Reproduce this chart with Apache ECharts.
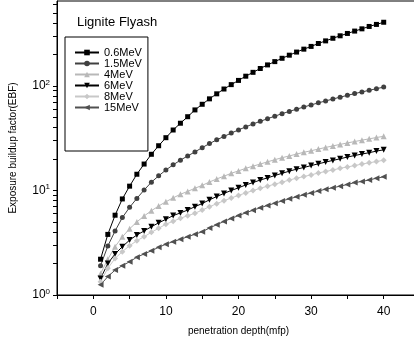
<!DOCTYPE html>
<html>
<head>
<meta charset="utf-8">
<script src="https://cdn.jsdelivr.net/npm/echarts@6/dist/echarts.min.js"></script>
<style>
  html, body { margin: 0; padding: 0; background: #fff; }
  #chart { width: 414px; height: 339px; }
</style>
</head>
<body>
<div id="chart"></div>
<script>
// penetration depth (mfp)
var depth = [1, 2, 3, 4, 5, 6, 7, 8, 9, 10, 11, 12, 13, 14, 15, 16, 17, 18, 19, 20,
             21, 22, 23, 24, 25, 26, 27, 28, 29, 30, 31, 32, 33, 34, 35, 36, 37, 38, 39, 40];

// EBF, one list per energy
var ebf06 = [2.2, 3.8, 5.8, 8.3, 11.0, 14.3, 17.9, 22.2, 26.8, 32, 37.9, 44, 50.8, 59, 66.8,
             75.3, 84.1, 93.5, 103, 113, 124, 135, 147, 159, 171, 184, 197, 211, 225, 239,
             255, 270, 286, 302, 318, 335, 352, 371, 388, 407];
var ebf15 = [1.91, 2.94, 4.1, 5.5, 6.9, 8.4, 10.1, 12.0, 13.8, 15.7, 17.6, 19.5, 21.4, 23.4, 25.7,
             28.1, 30.5, 32.9, 35.4, 38.0, 40.6, 43.3, 45.9, 48.6, 51.4, 54.3, 57.1, 60.0, 62.9, 65.9,
             68.9, 71.9, 75.0, 78.2, 81.3, 84.5, 87.7, 90.8, 94.2, 97.5];
var ebf4 = [1.6, 2.2, 2.9, 3.6, 4.3, 5.0, 5.7, 6.4, 7.1, 7.8, 8.5, 9.2, 9.8, 10.5, 11.2,
            12.05, 12.9, 13.7, 14.6, 15.4, 16.3, 17.1, 17.9, 18.8, 19.7, 20.6, 21.4, 22.3, 23.2, 24.0,
            24.9, 25.8, 26.7, 27.6, 28.5, 29.4, 30.3, 31.2, 32.1, 33.0];
var ebf6 = [1.44, 2.0, 2.47, 2.9, 3.35, 3.75, 4.1, 4.5, 4.9, 5.3, 5.75, 6.1, 6.5, 7.0, 7.5,
            8.14, 8.75, 9.38, 10.0, 10.6, 11.3, 11.9, 12.6, 13.2, 13.9, 14.6, 15.3, 16.0, 16.6, 17.3,
            18.0, 18.7, 19.4, 20.1, 20.9, 21.6, 22.3, 23.0, 23.8, 24.5];
var ebf8 = [1.34, 1.8, 2.24, 2.6, 2.96, 3.31, 3.61, 3.98, 4.35, 4.75, 5.08, 5.42, 5.74, 6.05, 6.5,
            6.99, 7.48, 7.98, 8.48, 8.97, 9.48, 9.98, 10.5, 11.0, 11.5, 12.0, 12.6, 13.1, 13.6, 14.1,
            14.7, 15.2, 15.7, 16.3, 16.8, 17.3, 17.9, 18.4, 18.9, 19.5];
var ebf150 = [1.25, 1.5, 1.73, 1.91, 2.08, 2.3, 2.47, 2.65, 2.86, 3.06, 3.24, 3.41, 3.61, 3.81, 4.03,
              4.37, 4.71, 5.05, 5.40, 5.75, 6.11, 6.47, 6.83, 7.19, 7.56, 7.94, 8.32, 8.69, 9.08, 9.46,
              9.86, 10.3, 10.6, 11.0, 11.4, 11.9, 12.2, 12.6, 13.1, 13.5];

var xLabels = [0, 10, 20, 30, 40];
var xTicks = [-5, 0, 5, 10, 15, 20, 25, 30, 35, 40, 45];
var yLabels = [1, 10, 100];
var yTicks = [1, 2, 3, 4, 5, 6, 7, 8, 9, 10, 20, 30, 40, 50, 60, 70, 80, 90, 100, 200, 300, 400, 500, 600];

var chart = echarts.init(document.getElementById('chart'));

function pairs(vals) {
    return vals.map(function (v, i) { return [depth[i], v]; });
}

function mkSeries(name, vals, color, symbol, size, rotate) {
    return {
        name: name,
        type: 'line',
        data: pairs(vals),
        symbol: symbol,
        symbolSize: size,
        symbolRotate: rotate || 0,
        showAllSymbol: true,
        lineStyle: { color: color, width: 1 },
        itemStyle: { color: color },
        animation: false
    };
}

var font = 'Liberation Sans, Arial, sans-serif';

var options = {
    backgroundColor: '#fff',
    textStyle: { fontFamily: font },
    title: {
        text: 'Lignite Flyash',
        left: 72,
        top: 11,
        textStyle: { fontSize: 13, fontWeight: 'normal', color: '#000', fontFamily: font }
    },
    legend: {
        orient: 'vertical',
        left: 65,
        top: 37,
        padding: [10, 6, 38, 9],
        itemWidth: 24,
        itemHeight: 7,
        itemGap: 0,
        borderColor: '#000',
        borderWidth: 1,
        textStyle: { fontSize: 11, lineHeight: 11, color: '#000', fontFamily: font },
        data: ['0.6MeV', '1.5MeV', '4MeV', '6MeV', '8MeV', '15MeV']
    },
    grid: {
        left: 57,
        right: -6,
        top: 1,
        bottom: 44,
        show: true,
        borderColor: '#000',
        borderWidth: 1,
        containLabel: false,
        outerBoundsMode: 'none'
    },
    xAxis: {
        type: 'value',
        min: -5,
        max: 45,
        name: 'penetration depth(mfp)',
        nameLocation: 'middle',
        nameGap: 31,
        nameTextStyle: { fontSize: 10, color: '#000', fontFamily: font },
        axisLine: { onZero: false, lineStyle: { color: '#000', width: 1 } },
        axisTick: { show: true, inside: false, length: 4, customValues: xTicks, lineStyle: { color: '#000' } },
        axisLabel: { customValues: xLabels, margin: 11, fontSize: 12, color: '#000', fontFamily: font },
        splitLine: { show: false }
    },
    yAxis: {
        type: 'log',
        logBase: 10,
        min: 1,
        max: 650,
        name: 'Exposure buildup factor(EBF)',
        nameLocation: 'middle',
        nameGap: 39,
        nameTextStyle: { fontSize: 10, color: '#000', fontFamily: font },
        axisLine: { show: true, onZero: false, lineStyle: { color: '#000', width: 1 } },
        axisTick: { show: true, inside: false, length: 4, customValues: yTicks, lineStyle: { color: '#000' } },
        axisLabel: {
            customValues: yLabels,
            margin: 7,
            fontSize: 12,
            color: '#000',
            fontFamily: font,
            formatter: function (v) {
                return '10{s|' + Math.round(Math.log10(v)) + '}';
            },
            rich: {
                s: { fontSize: 8, padding: [0, 0, 7, 0], color: '#000', fontFamily: font }
            }
        },
        splitLine: { show: false }
    },
    series: [
        mkSeries('0.6MeV', ebf06, '#000000', 'rect', 5),
        mkSeries('1.5MeV', ebf15, '#404040', 'circle', 5),
        mkSeries('4MeV', ebf4, '#b8b8b8', 'triangle', 6),
        mkSeries('6MeV', ebf6, '#000000', 'triangle', 6, 180),
        mkSeries('8MeV', ebf8, '#c8c8c8', 'diamond', 6),
        mkSeries('15MeV', ebf150, '#505050', 'triangle', 6, 90)
    ]
};

chart.setOption(options);
</script>
</body>
</html>
